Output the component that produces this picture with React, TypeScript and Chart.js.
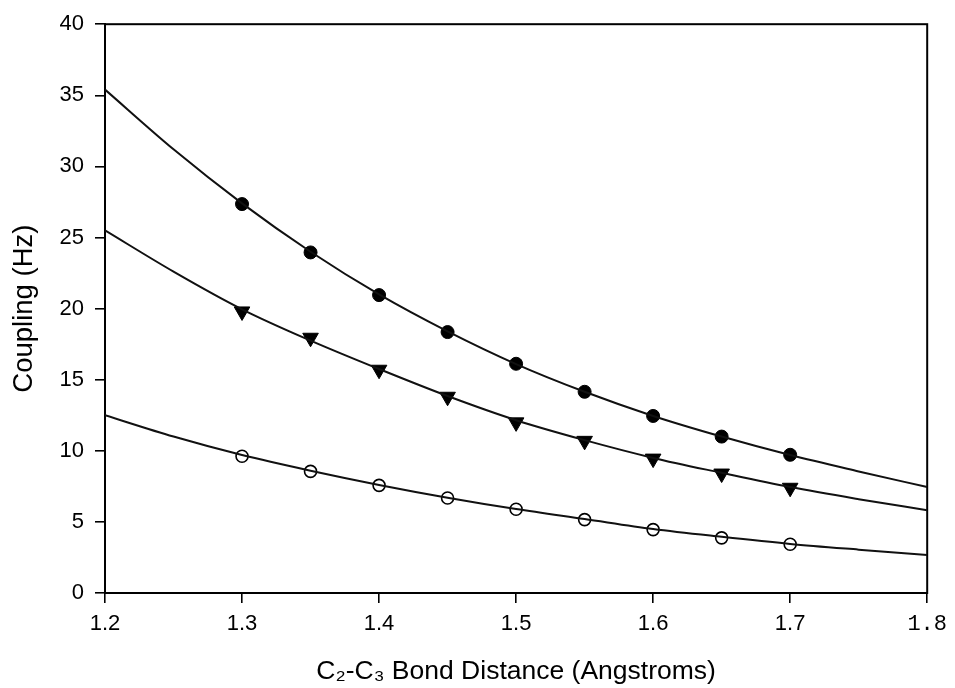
import React, { useEffect, useRef } from "react";
import { Chart, registerables } from "chart.js";

Chart.register(...registerables);

// Fitted curves
const CURVE_X = [1.2, 1.25, 1.3, 1.35, 1.4, 1.45, 1.5, 1.55, 1.6, 1.65, 1.7, 1.75, 1.8];
const UPPER_CURVE = [35.4, 31.2, 27.4, 24.0, 21.0, 18.4, 16.1, 14.15, 12.45, 11.0, 9.7, 8.55, 7.45];
const MIDDLE_CURVE = [25.5, 22.6, 19.95, 17.75, 15.75, 13.85, 12.15, 10.75, 9.5, 8.45, 7.45, 6.6, 5.82];
const LOWER_CURVE = [12.5, 11.0, 9.7, 8.6, 7.6, 6.7, 5.9, 5.2, 4.5, 3.95, 3.45, 3.05, 2.68];

// Data points
const POINT_X = [1.3, 1.35, 1.4, 1.45, 1.5, 1.55, 1.6, 1.65, 1.7];
const FILLED_CIRCLES = [27.35, 23.95, 20.95, 18.35, 16.12, 14.15, 12.45, 11.0, 9.72];
const TRIANGLES = [19.8, 17.95, 15.7, 13.8, 12.0, 10.7, 9.45, 8.4, 7.4];
const OPEN_CIRCLES = [9.62, 8.55, 7.57, 6.68, 5.89, 5.16, 4.46, 3.88, 3.43];

const X_TICKS = [1.2, 1.3, 1.4, 1.5, 1.6, 1.7, 1.8];
const Y_TICKS = [0, 5, 10, 15, 20, 25, 30, 35, 40];
const X_TITLE = "C\u2082-C\u2083 Bond Distance (Angstroms)";
const Y_TITLE = "Coupling (Hz)";

const toXY = (xs: number[], ys: number[]) => xs.map((x, i) => ({ x, y: ys[i] }));

const framePlugin = {
  id: "frame",
  beforeDatasetsDraw(chart: any) {
    const { ctx, chartArea } = chart;
    ctx.save();
    ctx.strokeStyle = "#000";
    ctx.lineWidth = 2;
    ctx.strokeRect(chartArea.left, chartArea.top, chartArea.right - chartArea.left, chartArea.bottom - chartArea.top);
    ctx.restore();
  },
};

export default function App() {
  const ref = useRef<HTMLCanvasElement | null>(null);

  useEffect(() => {
    document.body.style.margin = "0";
    if (!ref.current) return;
    const lineDs = (data: number[]) => ({
      type: "line" as const,
      data: toXY(CURVE_X, data),
      borderColor: "#111",
      borderWidth: 2,
      pointRadius: 0,
      showLine: true,
      fill: false,
      cubicInterpolationMode: "monotone" as const,
    });
    const chart = new Chart(ref.current, {
      type: "scatter",
      data: {
        datasets: [
          lineDs(UPPER_CURVE),
          lineDs(MIDDLE_CURVE),
          lineDs(LOWER_CURVE),
          {
            data: toXY(POINT_X, FILLED_CIRCLES),
            pointStyle: "circle",
            pointRadius: 6.5,
            backgroundColor: "#000",
            borderColor: "#000",
            borderWidth: 1,
          },
          {
            data: toXY(POINT_X, TRIANGLES),
            pointStyle: "triangle",
            rotation: 180,
            pointRadius: 9,
            backgroundColor: "#000",
            borderColor: "#000",
            borderWidth: 1,
          },
          {
            data: toXY(POINT_X, OPEN_CIRCLES),
            pointStyle: "circle",
            pointRadius: 6,
            backgroundColor: "#fff",
            borderColor: "#000",
            borderWidth: 1.6,
          },
        ] as any,
      },
      options: {
        animation: false,
        responsive: false,
        layout: { padding: { left: 0, right: 26, top: 21, bottom: 0 } },
        plugins: { legend: { display: false }, tooltip: { enabled: false } },
        scales: {
          x: {
            type: "linear",
            position: "bottom",
            min: 1.2,
            max: 1.8,
            afterBuildTicks: (scale: any) => {
              scale.ticks = X_TICKS.map((v) => ({ value: v }));
            },
            afterFit: (scale: any) => {
              scale.height = 95;
            },
            border: { display: true, color: "#000", width: 2 },
            grid: { display: true, drawOnChartArea: false, drawTicks: true, tickLength: 10, color: "#000", lineWidth: 1.6 },
            ticks: {
              color: "#000",
              padding: 8,
              maxRotation: 0,
              autoSkip: false,
              callback: (v: any) => Number(v).toFixed(1),
              font: (ctx: any) => ({
                family: ctx.tick && Math.abs(ctx.tick.value - 1.8) < 1e-6 ? "Liberation Mono" : "Liberation Sans",
                size: 22,
              }),
            },
            title: {
              display: true,
              text: X_TITLE,
              color: "#000",
              font: { family: "Liberation Sans", size: 26.5 },
              padding: { top: 0, bottom: 0 },
            },
          },
          y: {
            type: "linear",
            position: "left",
            min: 0,
            max: 40,
            afterBuildTicks: (scale: any) => {
              scale.ticks = Y_TICKS.map((v) => ({ value: v }));
            },
            afterFit: (scale: any) => {
              scale.width = 105;
            },
            border: { display: true, color: "#000", width: 2 },
            grid: { display: true, drawOnChartArea: false, drawTicks: true, tickLength: 10, color: "#000", lineWidth: 1.6 },
            ticks: {
              color: "#000",
              padding: 11,
              autoSkip: false,
              font: { family: "Liberation Sans", size: 22 },
            },
            title: {
              display: true,
              text: Y_TITLE,
              color: "#000",
              font: { family: "Liberation Sans", size: 27.5 },
              padding: { top: 8, bottom: 0 },
            },
          },
        },
      },
      plugins: [framePlugin],
    });
    return () => chart.destroy();
  }, []);

  return (
    <div style={{ position: "fixed", left: 0, top: 0, width: 955, height: 688, background: "#fff" }}>
      <canvas ref={ref} width={955} height={688} style={{ display: "block", width: 955, height: 688 }} />
    </div>
  );
}
